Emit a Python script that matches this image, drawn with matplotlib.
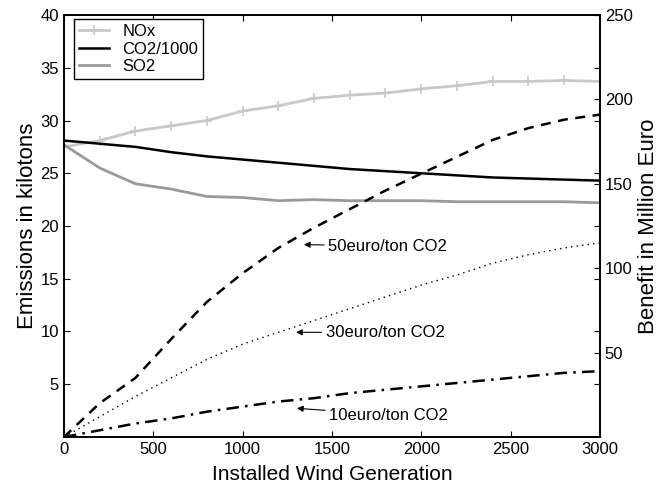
import numpy as np
import matplotlib
matplotlib.use("Agg")
import matplotlib.pyplot as plt

plt.rcParams['font.family'] = ['Liberation Sans', 'DejaVu Sans']

# installed wind generation (MW)
wind = [0, 200, 400, 600, 800, 1000, 1200, 1400, 1600, 1800, 2000, 2200, 2400, 2600, 2800, 3000]

# emissions in kilotons (left axis)
nox = [27.5, 28.1, 29.0, 29.5, 30.0, 30.9, 31.4, 32.1, 32.4, 32.6, 33.0, 33.3, 33.7, 33.7, 33.8, 33.7]
co2 = [28.1, 27.8, 27.5, 27.0, 26.6, 26.3, 26.0, 25.7, 25.4, 25.2, 25.0, 24.8, 24.6, 24.5, 24.4, 24.3]
so2 = [27.7, 25.5, 24.0, 23.5, 22.8, 22.7, 22.4, 22.5, 22.4, 22.4, 22.4, 22.3, 22.3, 22.3, 22.3, 22.2]

# benefit in million euro (right axis)
ben50 = [0, 20, 35, 58, 80, 97, 112, 124, 135, 146, 156, 166, 176, 183, 188, 191]
ben30 = [0, 12, 24, 35, 46, 55, 62, 69, 76, 83, 90, 96, 103, 108, 112, 115]
ben10 = [0, 4, 8, 11, 15, 18, 21, 23, 26, 28, 30, 32, 34, 36, 38, 39]

fig = plt.figure(figsize=(6.65, 4.94), dpi=100)
ax1 = fig.add_axes([0.0962, 0.1154, 0.8058, 0.8542])
ax2 = ax1.twinx()

ax1.plot(wind, nox, color='#c8c8c8', lw=2, marker='+', ms=7, mew=1.2, label='NOx')
ax1.plot(wind, co2, color='black', lw=1.8, label='CO2/1000')
ax1.plot(wind, so2, color='#9a9a9a', lw=2, label='SO2')

ax2.plot(wind, ben50, color='black', lw=1.8, ls=(0, (4, 3)))
ax2.plot(wind, ben30, color='black', lw=1, ls=(0, (1, 3)))
ax2.plot(wind, ben10, color='black', lw=1.8, ls=(0, (5, 2.5, 1, 2.5)))

ax1.set_xlim(0, 3000)
ax1.set_ylim(0, 40)
ax2.set_ylim(0, 250)
ax1.set_xticks(range(0, 3001, 500))
ax1.set_yticks(range(5, 41, 5))
ax2.set_yticks(range(50, 251, 50))

ax1.tick_params(direction='in', top=True, right=True, labelsize=12, length=4)
ax2.tick_params(direction='in', labelsize=12, length=4)

ax1.set_xlabel('Installed Wind Generation', fontsize=15, labelpad=6)
ax1.set_ylabel('Emissions in kilotons', fontsize=16, labelpad=1.5)
ax2.set_ylabel('Benefit in Million Euro', fontsize=16, labelpad=4)

for a in (ax1, ax2):
    for s in a.spines.values():
        s.set_linewidth(1.2)

arrow = dict(arrowstyle='-|>', color='black', lw=0.8, mutation_scale=9, shrinkA=1, shrinkB=0)
ax2.annotate('50euro/ton CO2', xy=(1343, 114), xytext=(1480, 113), fontsize=12,
             va='center', ha='left', arrowprops=arrow)
ax2.annotate('30euro/ton CO2', xy=(1299, 62), xytext=(1465, 62), fontsize=12,
             va='center', ha='left', arrowprops=arrow)
ax2.annotate('10euro/ton CO2', xy=(1304, 17), xytext=(1485, 13), fontsize=12,
             va='center', ha='left', arrowprops=arrow)

leg = ax1.legend(loc='upper left', bbox_to_anchor=(0.019, 0.99), fontsize=12,
                 fancybox=False, framealpha=1, edgecolor='black', borderaxespad=0,
                 handlelength=1.8, handletextpad=0.8, labelspacing=0.15, borderpad=0.3)
leg.get_frame().set_linewidth(1)

fig.savefig('out.png', dpi=100)
